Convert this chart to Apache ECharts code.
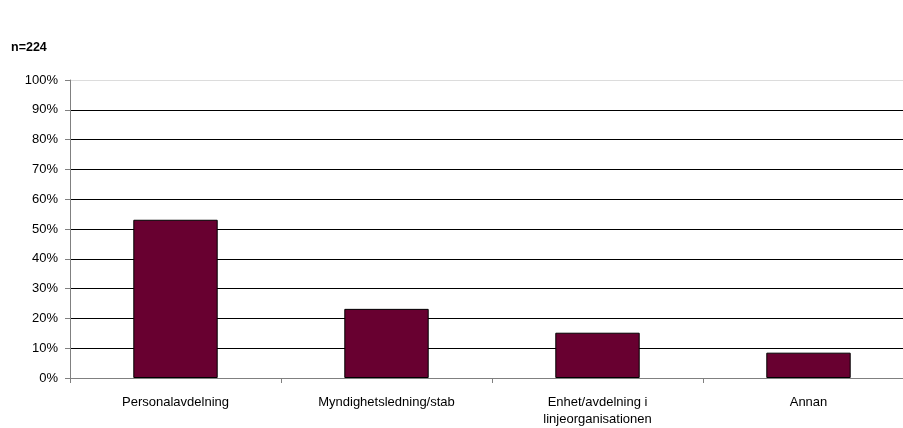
<!DOCTYPE html>
<html><head><meta charset="utf-8">
<script src="https://cdn.jsdelivr.net/npm/echarts@6/dist/echarts.min.js"></script>
<style>html,body{margin:0;padding:0;background:#fff;overflow:hidden}#c{width:914px;height:428px}</style>
</head><body><div id="c"></div>
<script>
const titleText = 'n=224';
const categories = ['Personalavdelning', 'Myndighetsledning/stab', 'Enhet/avdelning i\nlinjeorganisationen', 'Annan'];
const values = [53.1, 23.2, 15.2, 8.5];
const yTicks = [0, 10, 20, 30, 40, 50, 60, 70, 80, 90, 100];

const chart = echarts.init(document.getElementById('c'), null, {renderer: 'canvas'});
const font = '"Liberation Sans", Arial, sans-serif';
const gridColors = yTicks.map(v => v === 100 ? '#dcdcdc' : '#000000');
chart.setOption({
  animation: false,
  backgroundColor: '#ffffff',
  title: {
    text: titleText, left: 6, top: 36,
    textStyle: {fontFamily: font, fontSize: 12.5, fontWeight: 'bold', color: '#000'}
  },
  grid: {left: 70, right: 0, top: 80, bottom: 48, containLabel: false},
  xAxis: {
    type: 'category', data: categories,
    axisLine: {lineStyle: {color: '#808080', width: 1}},
    axisTick: {show: true, length: 5, lineStyle: {color: '#808080'}},
    axisLabel: {fontFamily: font, fontSize: 13, color: '#000', margin: 16, lineHeight: 17, interval: 0}
  },
  yAxis: {
    type: 'value', min: 0, max: 100, interval: 10,
    axisLine: {show: true, lineStyle: {color: '#808080', width: 1}},
    axisTick: {show: true, length: 5, lineStyle: {color: '#808080'}},
    axisLabel: {fontFamily: font, fontSize: 13, color: '#000', margin: 12, formatter: '{value}%'},
    splitLine: {show: true, lineStyle: {color: gridColors, width: 1}}
  },
  series: [{
    type: 'bar', data: values, barWidth: '40%',
    itemStyle: {color: '#680030', borderColor: '#000', borderWidth: 1}
  }]
});
</script></body></html>
